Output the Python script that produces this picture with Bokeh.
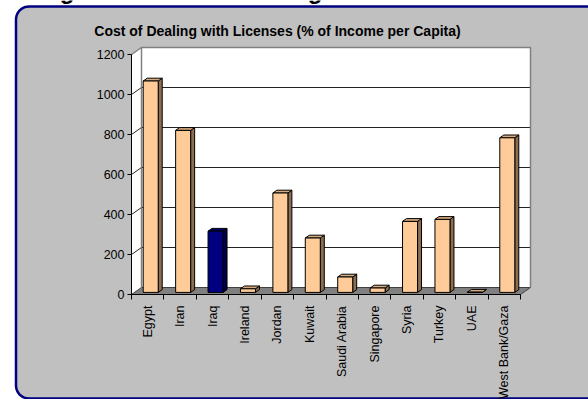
import math
import numpy as np
from bokeh.plotting import figure
from bokeh.models import FixedTicker, Label, LinearAxis
from bokeh.embed import file_html
from bokeh.resources import INLINE

# ---------------- data ----------------
countries = ["Egypt", "Iran", "Iraq", "Ireland", "Jordan", "Kuwait", "Saudi Arabia",
             "Singapore", "Syria", "Turkey", "UAE", "West Bank/Gaza"]
cost = [1057, 810, 306, 18, 497, 272, 77, 22, 355, 365, 1, 773]
highlight = ["Iraq"]
y_ticks = [0, 200, 400, 600, 800, 1000, 1200]
chart_title = "Cost of Dealing with Licenses (% of Income per Capita)"
figure_title = "Figure 8: Cost of Dealing with Licenses"

# ---------------- layout (pixels) ----------------
W, H = 588, 399
X0, X1 = 131, 520          # pixel position of category 0 and of the last boundary
Y0, YT = 294, 54           # pixel position of value 0 and of the top tick value
n = len(countries)
YTOP = y_ticks[-1]
sx = (X1 - X0) / n                       # px per category
sy = (Y0 - YT) / YTOP                    # px per value unit

def px_x(px):
    return (px - X0) / sx

def px_y(py):
    return (Y0 - py) / sy

DX = 10 / sx                 # 3-D depth in category units (10 px)
DY = 7 / sy                  # 3-D depth in value units (7 px)

p = figure(width=W, height=H, x_range=(px_x(0), px_x(W)), y_range=(px_y(H), px_y(0)),
           output_backend="svg", toolbar_location=None, x_axis_type=None, y_axis_type=None,
           min_border=0, min_border_left=0, min_border_right=0,
           min_border_top=0, min_border_bottom=0)
p.grid.visible = False
p.outline_line_color = None
p.background_fill_color = "white"
p.border_fill_color = "white"

# gray rounded panel (decoration)
L, T, B, R, r = 15.5, 6.0, 398.0, 640.0, 13.0
px_pts = [(R, B), (L + r, B)]
for th in np.linspace(math.pi / 2, math.pi, 12):
    px_pts.append((L + r + r * math.cos(th), B - r + r * math.sin(th)))
for th in np.linspace(math.pi, 1.5 * math.pi, 12):
    px_pts.append((L + r + r * math.cos(th), T + r + r * math.sin(th)))
px_pts.append((R, T))
p.patch([px_x(a) for a, b in px_pts], [px_y(b) for a, b in px_pts],
        fill_color="#C0C0C0", line_color="#000080", line_width=2.5)

# walls
p.patch([0, 0, DX, n + DX, n + DX, n], [0, YTOP, YTOP + DY, YTOP + DY, DY, 0],
        fill_color="white", line_color=None)
p.patch([0, n, n + DX, DX], [0, 0, DY, DY], fill_color="#808080",
        line_color="#404040", line_width=1)

# gridlines (side wall diagonal + back wall)
gx, gy = [], []
for v in y_ticks[1:-1]:
    gx.append([0, DX, n + DX])
    gy.append([v, v + DY, v + DY])
p.multi_line(gx, gy, line_color="#222222", line_width=1)
p.multi_line([[0, DX], [DX, DX, n + DX, n + DX]],
             [[YTOP, YTOP + DY], [DY, YTOP + DY, YTOP + DY, DY]],
             line_color="#808080", line_width=1.5)

# 3-D bars
w = 7.5 / sx
fx, fy = 0.3 * DX, 0.3 * DY
bx, by = 0.7 * DX, 0.7 * DY
centers = np.arange(n) + 0.5
vals = np.array(cost, dtype=float)
is_hi = [c in highlight for c in countries]
front_col = ["#000080" if h else "#FFCC99" for h in is_hi]
top_col = ["#000066" if h else "#D6AB80" for h in is_hi]
side_col = ["#000040" if h else "#8C6D4F" for h in is_hi]

left = centers - w + fx
right = centers + w + fx
top_xs = [[l, rr, rr - fx + bx, l - fx + bx] for l, rr in zip(left, right)]
top_ys = [[v + fy, v + fy, v + by, v + by] for v in vals]
side_xs = [[rr, rr - fx + bx, rr - fx + bx, rr] for rr in right]
side_ys = [[fy, by, v + by, v + fy] for v in vals]

p.patches(side_xs, side_ys, fill_color=side_col, line_color="black", line_width=1)
p.patches(top_xs, top_ys, fill_color=top_col, line_color="black", line_width=1)
p.quad(left=left, right=right, bottom=fy, top=vals + fy,
       fill_color=front_col, line_color="black", line_width=1)

# axes (fixed inside the frame)
yaxis = LinearAxis(fixed_location=0, ticker=FixedTicker(ticks=y_ticks), bounds=(0, YTOP))
yaxis.major_tick_out = 4
yaxis.major_tick_in = 0
yaxis.minor_tick_out = 0
yaxis.minor_tick_in = 0
yaxis.axis_line_color = "black"
yaxis.major_tick_line_color = "black"
yaxis.major_label_standoff = 3
yaxis.major_label_text_font = "Liberation Sans"
yaxis.major_label_text_font_size = "12.5px"
yaxis.major_label_text_color = "black"
p.add_layout(yaxis, "left")

xaxis = LinearAxis(fixed_location=0,
                   ticker=FixedTicker(ticks=list(centers), minor_ticks=list(range(n + 1))),
                   bounds=(0, n))
xaxis.major_label_overrides = {float(c): name for c, name in zip(centers, countries)}
xaxis.major_label_orientation = math.pi / 2
xaxis.major_tick_out = 0
xaxis.major_tick_in = 0
xaxis.minor_tick_out = 5
xaxis.minor_tick_in = 0
xaxis.minor_tick_line_color = "black"
xaxis.axis_line_color = "black"
xaxis.major_label_standoff = 6
xaxis.major_label_text_font = "Liberation Sans"
xaxis.major_label_text_font_size = "12.5px"
xaxis.major_label_text_color = "black"
p.add_layout(xaxis, "below")

# titles
p.add_layout(Label(x=px_x(277), y=px_y(30), text=chart_title, text_align="center",
                   text_baseline="middle", text_font="Liberation Sans",
                   text_font_style="bold", text_font_size="14px", text_color="black"))
p.add_layout(Label(x=px_x(38), y=px_y(3), text=figure_title, text_align="left",
                   text_baseline="bottom", text_font="Liberation Sans",
                   text_font_style="bold", text_font_size="24px", text_color="black"))

open("out.html", "w").write(file_html(p, INLINE))
